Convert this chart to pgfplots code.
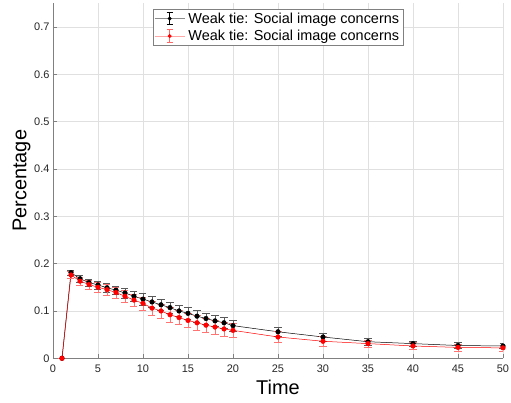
\documentclass[border=0pt]{standalone}
\usepackage{fontspec}
\setmainfont{Liberation Sans}
\usepackage{pgfplots}
\pgfplotsset{compat=1.18}
\definecolor{axgray}{RGB}{38,38,38}
\definecolor{mred}{RGB}{255,0,0}
\begin{document}
\begin{tikzpicture}
\begin{axis}[
  scale only axis,
  width=450bp, height=355bp,
  xmin=0, xmax=50, ymin=0, ymax=0.75,
  xtick={0,5,...,50},
  ytick={0,0.1,...,0.7},
  axis lines*=left,
  axis line style={draw=black!50, line width=0.5pt},
  tick style={draw=black!50, line width=0.5pt},
  tick align=inside,
  major tick length=4.5bp,
  grid=major,
  grid style={draw=black!12, line width=0.5pt},
  ticklabel style={font=\fontsize{11}{13}\selectfont, text=axgray},
  xticklabel style={yshift=-3.5bp},
  /pgf/number format/assume math mode=true,
  yticklabel style={/pgf/number format/fixed, /pgf/number format/precision=1},
  xlabel={Time}, ylabel={Percentage},
  label style={font=\fontsize{20}{24}\selectfont, text=black},
  xlabel style={at={(rel axis cs:0.5,0)}, anchor=base, yshift=-36bp},
  ylabel style={at={(axis description cs:-0.0589,0.5)}, anchor=base, rotate=0},
  legend style={at={(rel axis cs:0.5,0.983)}, anchor=north, font=\fontsize{14.5}{16}\selectfont,
    draw=black!50, line width=0.5pt, inner xsep=1.5bp, inner ysep=1.5bp, row sep=2.5bp,
    column sep=1bp, nodes={inner ysep=1.5bp, inner xsep=2.5bp}, cells={anchor=west}},
  legend cell align=left,
]
\addplot[black, line width=0.5pt, mark=*, mark size=2.3bp, mark options={fill=black},
  legend image code/.code={
    \draw[black!45, line width=0.6pt] (0bp,0bp) -- (30bp,0bp);
    \draw[black, line width=0.5pt] (15bp,-6bp) -- (15bp,6bp) (12bp,-6bp) -- (18bp,-6bp) (12bp,6bp) -- (18bp,6bp);
    \fill[black] (15bp,0bp) circle (1.7bp);},
  error bars/.cd, y dir=both, y explicit, error bar style={black!65, line width=0.5pt},
  error mark options={rotate=90, mark size=3.5bp, black!65}]
coordinates {
(1,0) +- (0,0)
(2,0.181) +- (0,0.006)
(3,0.168) +- (0,0.007)
(4,0.160) +- (0,0.007)
(5,0.155) +- (0,0.008)
(6,0.149) +- (0,0.009)
(7,0.144) +- (0,0.009)
(8,0.138) +- (0,0.010)
(9,0.131) +- (0,0.011)
(10,0.125) +- (0,0.012)
(11,0.119) +- (0,0.012)
(12,0.113) +- (0,0.012)
(13,0.107) +- (0,0.012)
(14,0.100) +- (0,0.012)
(15,0.095) +- (0,0.012)
(16,0.089) +- (0,0.012)
(17,0.084) +- (0,0.011)
(18,0.079) +- (0,0.011)
(19,0.075) +- (0,0.011)
(20,0.069) +- (0,0.011)
(25,0.056) +- (0,0.010)
(30,0.045) +- (0,0.009)
(35,0.035) +- (0,0.008)
(40,0.031) +- (0,0.006)
(45,0.027) +- (0,0.006)
(50,0.026) +- (0,0.005)
};
\addlegendentry{Weak tie: Social image concerns}
\addplot[mred, line width=0.5pt, mark=*, mark size=2.3bp, mark options={fill=mred},
  legend image code/.code={
    \draw[mred!35, line width=0.6pt] (0bp,0bp) -- (30bp,0bp);
    \draw[mred!60, line width=0.5pt] (15bp,-6.5bp) -- (15bp,6.5bp) (12bp,-6.5bp) -- (18bp,-6.5bp) (12bp,6.5bp) -- (18bp,6.5bp);
    \fill[mred] (15bp,0bp) circle (1.7bp);},
  error bars/.cd, y dir=both, y explicit, error bar style={mred!55, line width=0.5pt},
  error mark options={rotate=90, mark size=3.5bp, mred!55}]
coordinates {
(1,0) +- (0,0)
(2,0.176) +- (0,0.007)
(3,0.163) +- (0,0.008)
(4,0.156) +- (0,0.009)
(5,0.150) +- (0,0.010)
(6,0.145) +- (0,0.011)
(7,0.139) +- (0,0.012)
(8,0.131) +- (0,0.013)
(9,0.123) +- (0,0.013)
(10,0.116) +- (0,0.014)
(11,0.106) +- (0,0.015)
(12,0.100) +- (0,0.015)
(13,0.092) +- (0,0.015)
(14,0.086) +- (0,0.015)
(15,0.080) +- (0,0.015)
(16,0.075) +- (0,0.015)
(17,0.070) +- (0,0.015)
(18,0.066) +- (0,0.015)
(19,0.062) +- (0,0.015)
(20,0.059) +- (0,0.015)
(25,0.045) +- (0,0.012)
(30,0.036) +- (0,0.011)
(35,0.031) +- (0,0.008)
(40,0.026) +- (0,0.007)
(45,0.023) +- (0,0.007)
(50,0.022) +- (0,0.006)
};
\addlegendentry{Weak tie: Social image concerns}
\coordinate (bl) at (rel axis cs:0,0);
\coordinate (tr) at (rel axis cs:1,1);
\end{axis}
\pgfresetboundingbox
\path ([shift={(-53bp,-44.7bp)}]bl) rectangle ([shift={(8bp,3.3bp)}]tr);
\end{tikzpicture}
\end{document}
